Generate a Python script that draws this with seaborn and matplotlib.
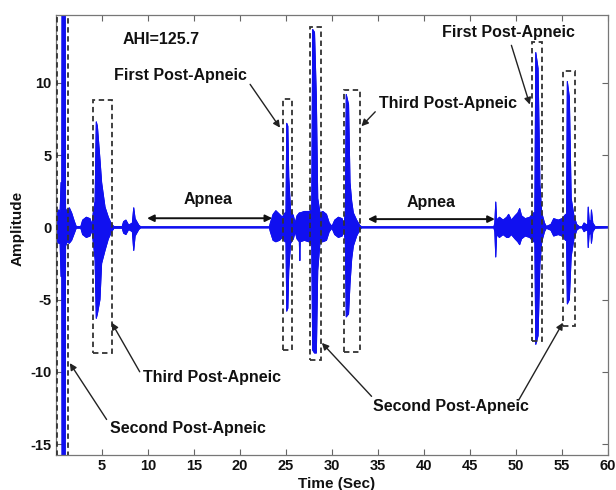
import matplotlib
matplotlib.use("Agg")
import matplotlib.pyplot as plt
import seaborn as sns
import numpy as np
from matplotlib.patches import Rectangle

env_time = [0.0, 0.3, 0.45, 0.55, 0.6, 0.63, 0.66, 1.0, 1.04, 1.2, 1.45, 1.7, 2.0, 2.2,
            2.7, 2.9, 3.3, 3.7, 3.9, 4.05, 4.25, 4.38, 4.5, 4.78, 4.96, 5.33, 5.69, 6.05, 6.3,
            7.2, 7.35, 7.6, 7.9, 8.3, 8.45, 8.6, 9.0, 9.2,
            23.2, 23.3, 23.6, 23.9, 24.3, 24.6, 24.9, 25.0, 25.08, 25.2, 25.3, 25.5, 25.8, 26.0,
            26.2, 26.45, 26.5, 26.55, 27.0, 27.5, 27.8, 27.9, 28.1, 28.3, 28.45, 28.7, 29.0,
            29.4, 29.7, 30.0, 30.3, 30.7, 31.1, 31.3, 31.45, 31.55, 31.8, 31.96, 32.14, 32.32,
            32.68, 33.0, 33.2,
            47.6, 47.7, 47.8, 47.9, 48.2, 48.6, 49.0, 49.2, 49.5, 49.9, 50.2, 50.4, 50.6, 51.0,
            51.5, 51.9, 52.05, 52.15, 52.4, 52.6, 52.8, 53.1, 53.3, 53.8, 54.1, 54.6, 55.0, 55.4,
            55.5, 55.58, 55.8, 56.0, 56.3, 56.6, 56.9, 57.2, 57.4, 57.6, 57.8, 57.85, 57.95,
            58.15, 58.2, 58.35, 58.6, 60.0]
env_upper = [0.9, 1.2, 1.1, 3.1, 1.2, 1.3, 17.0, 17.0, 1.3, 1.1, 1.35, 1.0, 0.4, 0.06,
             0.06, 0.5, 0.7, 0.6, 0.15, 1.0, 1.8, 7.3, 7.0, 4.7, 3.1, 1.4, 0.7, 0.2, 0.06,
             0.06, 0.4, 0.5, 0.15, 0.3, 1.35, 0.6, 0.15, 0.04,
             0.04, 0.3, 0.9, 1.15, 0.9, 0.7, 1.0, 1.0, 7.2, 7.0, 3.5, 1.2, 0.8, 0.3,
             0.8, 1.0, 1.0, 1.0, 1.1, 1.1, 1.2, 13.7, 13.5, 9.0, 2.0, 1.0, 1.1,
             0.9, 0.3, 0.06, 0.5, 0.7, 0.6, 0.2, 1.0, 9.2, 8.5, 3.1, 1.8, 1.0,
             0.5, 0.15, 0.04,
             0.04, 0.3, 1.75, 0.5, 0.7, 0.5, 0.7, 0.9, 0.5, 0.8, 1.0, 1.3, 0.8, 0.6,
             0.7, 1.0, 1.0, 12.1, 11.0, 3.0, 1.0, 0.3, 0.06, 0.2, 0.6, 0.5, 0.6, 0.9,
             0.9, 10.1, 9.0, 2.0, 0.8, 0.2, 0.04, 0.04, 0.3, 0.2, 0.2, 1.4, 0.5,
             0.4, 1.2, 0.3, 0.06, 0.04]
env_lower = [-0.9, -1.1, -1.1, -3.4, -1.2, -1.3, -17.0, -17.0, -1.3, -1.0, -1.1, -0.9, -0.4, -0.06,
             -0.06, -0.5, -0.7, -0.6, -0.15, -1.0, -2.2, -6.3, -6.0, -5.0, -2.5, -1.6, -0.8, -0.3, -0.06,
             -0.06, -0.4, -0.5, -0.15, -0.3, -1.6, -0.6, -0.15, -0.04,
             -0.04, -0.3, -0.9, -1.0, -0.9, -0.7, -1.0, -1.0, -5.8, -5.6, -3.0, -1.1, -0.8, -0.3,
             -0.8, -1.0, -2.3, -1.0, -0.9, -1.0, -1.2, -8.5, -8.7, -8.7, -3.0, -1.0, -1.0,
             -0.9, -0.3, -0.06, -0.5, -0.7, -0.6, -0.2, -1.0, -6.2, -6.0, -3.9, -2.2, -1.3,
             -0.6, -0.2, -0.04,
             -0.04, -0.3, -2.05, -0.5, -0.7, -0.5, -0.7, -0.7, -0.5, -0.8, -1.0, -1.2, -0.8, -0.6,
             -0.7, -1.0, -1.0, -8.1, -7.5, -2.5, -1.0, -0.3, -0.06, -0.2, -0.6, -0.5, -0.6, -0.9,
             -0.9, -5.3, -5.0, -2.0, -0.8, -0.2, -0.04, -0.04, -0.3, -0.2, -0.2, -1.4, -0.5,
             -0.4, -1.1, -0.3, -0.06, -0.04]

# ---- dashed boxes around post-apneic events ----
box_t0 = [0.1, 4.0, 24.65, 27.6, 31.25, 51.7, 55.15]
box_t1 = [1.35, 6.05, 25.7, 28.8, 33.0, 52.8, 56.4]
box_lo = [-17.0, -8.7, -8.5, -9.2, -8.6, -7.9, -6.8]
box_hi = [17.0, 8.8, 8.9, 13.9, 9.5, 12.8, 10.8]

# ---- annotations: text, text position, arrow start, arrow tip ----
ann_text = ["First Post-Apneic", "Third Post-Apneic", "First Post-Apneic",
            "Third Post-Apneic", "Second Post-Apneic"]
ann_xy_text = [(13.5, 10.5), (42.6, 8.6), (49.2, 13.5), (17.0, -10.4), (14.3, -13.96)]
ann_start = [(21.1, 9.9), (34.7, 8.0), (49.5, 12.6), (9.1, -10.0), (5.5, -13.3)]
ann_tip = [(24.35, 6.9), (33.2, 7.0), (51.5, 8.5), (6.05, -6.6), (1.5, -9.4)]

second_text = "Second Post-Apneic"
second_xy = (42.9, -12.4)
second_starts = [(34.3, -11.7), (50.3, -11.95)]
second_tips = [(28.9, -8.0), (55.1, -6.6)]

apnea_label_xy = [(16.5, 1.9), (40.8, 1.75)]
apnea_span = [(9.9, 23.5, 0.63), (33.9, 47.7, 0.57)]

x_ticks = [5, 10, 15, 20, 25, 30, 35, 40, 45, 50, 55, 60]
y_ticks = [-15, -10, -5, 0, 5, 10]

sns.set_theme(style="white")
plt.rcParams['font.family'] = ['Liberation Sans', 'DejaVu Sans']
plt.rcParams['font.weight'] = 'bold'

fig = plt.figure(figsize=(6.16, 4.90), dpi=100)
ax = fig.add_axes([56 / 616, 1 - 455 / 490, (608 - 56) / 616, (455 - 15) / 490])

sig_color = '#1010f0'
ax.fill_between(env_time, env_lower, env_upper, color=sig_color, linewidth=0.7,
                edgecolor=sig_color, zorder=2)
sns.lineplot(x=env_time, y=env_upper, ax=ax, color=sig_color, lw=0.7, zorder=2)
sns.lineplot(x=env_time, y=env_lower, ax=ax, color=sig_color, lw=0.7, zorder=2)

for t0, t1, lo, hi in zip(box_t0, box_t1, box_lo, box_hi):
    ax.add_patch(Rectangle((t0, lo), t1 - t0, hi - lo, fill=False, linestyle=(0, (3, 2)),
                           edgecolor='#333333', linewidth=1.3, zorder=3))

fs = 11.5
ax.text(11.4, 13.0, "AHI=125.7", ha='center', va='center', fontsize=fs, fontweight='bold', color='#111')

arrow_kw = dict(arrowstyle='-|>', color='#222222', lw=1.0, mutation_scale=10,
                shrinkA=0, shrinkB=0)
for txt, pos, st, tip in zip(ann_text, ann_xy_text, ann_start, ann_tip):
    ax.text(pos[0], pos[1], txt, ha='center', va='center', fontsize=fs,
            fontweight='bold', color='#111')
    ax.annotate('', xy=tip, xytext=st, arrowprops=arrow_kw)

ax.text(second_xy[0], second_xy[1], second_text, ha='center', va='center', fontsize=fs,
        fontweight='bold', color='#111')
for st, tip in zip(second_starts, second_tips):
    ax.annotate('', xy=tip, xytext=st, arrowprops=arrow_kw)

for (lx, ly), (a0, a1, ay) in zip(apnea_label_xy, apnea_span):
    ax.text(lx, ly, "Apnea", ha='center', va='center', fontsize=fs, fontweight='bold', color='#111')
    ax.annotate('', xy=(a1, ay), xytext=(a0, ay),
                arrowprops=dict(arrowstyle='<|-|>', color='#111111', lw=1.4,
                                mutation_scale=10, shrinkA=0, shrinkB=0))

ax.set_xlim(0, 60)
ax.set_ylim(-15.76, 14.7)
ax.set_xticks(x_ticks)
ax.set_yticks(y_ticks)
ax.set_xticklabels([str(v) for v in x_ticks], fontsize=10.5, fontweight='bold')
ax.set_yticklabels([str(v) for v in y_ticks], fontsize=10.5, fontweight='bold')
ax.tick_params(direction='in', length=4, width=0.8, color='#666666', top=True, right=True,
               bottom=True, left=True, pad=3, labelcolor='#111')
for s in ax.spines.values():
    s.set_color('#777777')
    s.set_linewidth(0.9)
ax.set_xlabel('')
ax.set_ylabel('')
fig.text(337 / 616, 1 - 484 / 490, "Time (Sec)", ha='center', va='center', fontsize=11,
         fontweight='bold', color='#111')
fig.text(18 / 616, 1 - 228 / 490, "Amplitude", ha='center', va='center', rotation=90,
         fontsize=11, fontweight='bold', color='#111')

fig.savefig('out.png', dpi=100)
